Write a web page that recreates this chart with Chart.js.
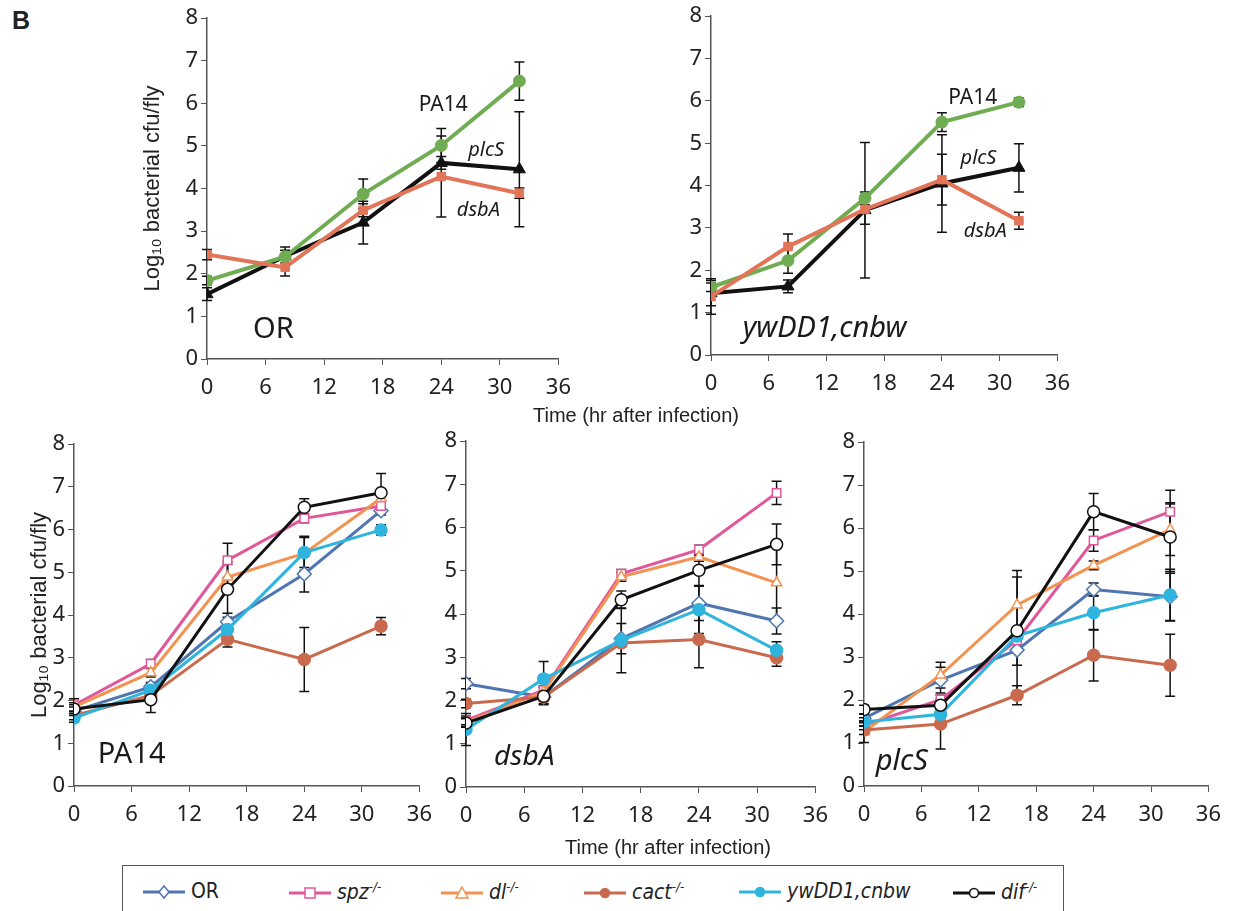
<!DOCTYPE html>
<html>
<head>
<meta charset="utf-8">
<title>Bacterial growth in flies</title>
<script src="https://cdn.jsdelivr.net/npm/chart.js@4.4.1/dist/chart.umd.min.js"></script>
<style>
  body { margin: 0; background: #fff; width: 1233px; height: 911px; overflow: hidden; position: relative;
         font-family: "Liberation Sans", Arial, sans-serif; color: #222; }
  canvas { position: absolute; }
  .xtitle { position: absolute; font-size: 20px; white-space: nowrap; transform: translateX(-50%); }
  #panelB { position: absolute; left: 12px; top: 6px; font-size: 25px; font-weight: bold; }
  #legend { position: absolute; left: 122px; top: 865px; width: 942px; height: 70px;
            border: 1.5px solid #555; box-sizing: border-box; }
  .item { position: absolute; top: 13px; height: 26px; white-space: nowrap;
          font-family: "Liberation Sans Narrow", "DejaVu Sans Condensed", "Liberation Sans", sans-serif; font-size: 21px; }
  .item svg { vertical-align: middle; margin-right: 6px; }
  .item sup { font-size: 13px; }
</style>
</head>
<body>
<div id="panelB">B</div>

<canvas id="chart-or" width="441" height="399" style="left:140px;top:0px"></canvas>
<canvas id="chart-yw" width="414" height="395" style="left:666px;top:0px"></canvas>
<canvas id="chart-pa14" width="415" height="402" style="left:27px;top:424px"></canvas>
<canvas id="chart-dsba" width="412" height="403" style="left:426px;top:424px"></canvas>
<canvas id="chart-plcs" width="407" height="402" style="left:824px;top:424px"></canvas>

<div class="xtitle" style="left:636px;top:404px">Time (hr after infection)</div>
<div class="xtitle" style="left:668px;top:836px">Time (hr after infection)</div>
<div id="legend"></div>

<script>
// ---- DATA (log10 cfu/fly) ----
var TIMES = [0, 8, 16, 24, 32];

// top row : fly strain OR, three bacteria
var OR_PA14 = [1.84, 2.40, 3.87, 5.01, 6.52];
var OR_PA14_ERR = [0.10, 0.15, 0.35, 0.40, 0.45];
var OR_DSBA = [2.45, 2.15, 3.49, 4.28, 3.89];
var OR_DSBA_ERR = [0.12, 0.20, 0.15, 0.95, 0.12];
var OR_PLCS = [1.52, 2.41, 3.20, 4.60, 4.45];
var OR_PLCS_ERR = [0.15, 0.22, 0.50, 0.15, 1.35];

// top row : fly strain ywDD1,cnbw
var YW_PA14 = [1.60, 2.23, 3.70, 5.50, 5.97];
var YW_PA14_ERR = [0.10, 0.30, 0.15, 0.22, 0.10];
var YW_DSBA = [1.38, 2.56, 3.44, 4.14, 3.17];
var YW_DSBA_ERR = [0.42, 0.30, 0.35, 0.60, 0.20];
var YW_PLCS = [1.46, 1.62, 3.42, 4.05, 4.42];
var YW_PLCS_ERR = [0.30, 0.15, 1.60, 1.15, 0.57];

// bottom row : fly genotypes, order OR, spz, dl, cact, ywDD1,cnbw, dif
var PA14_VALUES = [
  [1.75, 2.32, 3.84, 4.96, 6.44],
  [1.89, 2.86, 5.28, 6.26, 6.55],
  [1.85, 2.65, 4.89, 5.44, 6.73],
  [1.65, 2.12, 3.43, 2.96, 3.74],
  [1.59, 2.24, 3.66, 5.46, 5.99],
  [1.80, 2.02, 4.60, 6.52, 6.86]
];
var PA14_ERRORS = [
  [0.10, 0.10, 0.20, 0.42, 0.10],
  [0.15, 0.10, 0.40, 0.10, 0.10],
  [0.10, 0.10, 0.30, 0.40, 0.10],
  [0.10, 0.10, 0.18, 0.75, 0.20],
  [0.10, 0.15, 0.15, 0.35, 0.12],
  [0.10, 0.30, 0.65, 0.20, 0.45]
];
var DSBA_VALUES = [
  [2.39, 2.08, 3.43, 4.25, 3.84],
  [1.54, 2.24, 4.93, 5.49, 6.80],
  [1.50, 2.20, 4.86, 5.32, 4.72],
  [1.93, 2.08, 3.33, 3.41, 2.99],
  [1.33, 2.50, 3.39, 4.10, 3.16],
  [1.48, 2.10, 4.33, 5.01, 5.61]
];
var DSBA_ERRORS = [
  [0.12, 0.10, 0.35, 0.40, 0.30],
  [0.10, 0.10, 0.10, 0.10, 0.27],
  [0.10, 0.10, 0.10, 0.10, 0.85],
  [0.10, 0.15, 0.10, 0.65, 0.20],
  [0.37, 0.40, 0.75, 0.55, 0.20],
  [0.10, 0.20, 0.20, 0.35, 0.47]
];
var PLCS_VALUES = [
  [1.57, 2.46, 3.16, 4.57, 4.40],
  [1.41, 2.01, 3.39, 5.71, 6.38],
  [1.26, 2.58, 4.21, 5.13, 5.96],
  [1.30, 1.44, 2.11, 3.04, 2.81],
  [1.49, 1.67, 3.49, 4.03, 4.44],
  [1.78, 1.88, 3.61, 6.38, 5.79]
];
var PLCS_ERRORS = [
  [0.10, 0.30, 0.35, 0.15, 0.55],
  [0.10, 0.10, 0.10, 0.25, 0.50],
  [0.25, 0.30, 0.65, 0.10, 0.60],
  [0.10, 0.58, 0.22, 0.60, 0.72],
  [0.10, 0.10, 0.10, 0.40, 0.60],
  [0.10, 0.10, 1.40, 0.42, 0.80]
];

var GENOTYPES = ["OR", "spz", "dl", "cact", "ywDD1,cnbw", "dif"];
var GENOTYPE_MUTANT = [false, true, true, true, false, true]; // gets the -/- mark
var GENOTYPE_ITALIC = [false, true, true, true, true, true];

// ---- STYLES ----
var GENO_COLORS = ["#4f76b0", "#e0579a", "#f29352", "#c96a4e", "#2fb4de", "#111111"];
var GENO_POINTS = ["rectRot", "rect", "triangle", "circle", "circle", "circle"];
var GENO_OPEN = [true, true, true, false, false, true];
var TICK_FONT = { family: "'Noto Sans', sans-serif", size: 22 };
var Y_TITLE = "Log\u2081\u2080 bacterial cfu/fly";

// labels written inside the plot area (data coordinates)
var PANEL_TEXT = {
  "chart-or": [
    { text: "PA14", x: 24.2, y: 5.96, size: 21, style: "normal" },
    { text: "plcS", x: 28.6, y: 4.90, size: 20, style: "italic" },
    { text: "dsbA", x: 27.8, y: 3.50, size: 20, style: "italic" },
    { text: "OR", x: 6.8, y: 0.68, size: 29, style: "normal" }
  ],
  "chart-yw": [
    { text: "PA14", x: 27.2, y: 6.06, size: 21, style: "normal" },
    { text: "plcS", x: 27.8, y: 4.65, size: 20, style: "italic" },
    { text: "dsbA", x: 28.5, y: 2.93, size: 20, style: "italic" },
    { text: "ywDD1,cnbw", x: 11.8, y: 0.63, size: 29, style: "italic" }
  ],
  "chart-pa14": [{ text: "PA14", x: 6.0, y: 0.73, size: 29, style: "normal" }],
  "chart-dsba": [{ text: "dsbA", x: 6.0, y: 0.69, size: 28, style: "italic" }],
  "chart-plcs": [{ text: "plcS", x: 3.95, y: 0.56, size: 29, style: "italic" }]
};

/*
  NAME : errorBars
  ROLE : draw vertical error bars (dataset.errors) with the chart scales
*/
var errorBars = {
  id: "errorBars",
  beforeDatasetsDraw: function (chart) {
    var ctx = chart.ctx;
    var xs = chart.scales.x, ys = chart.scales.y;
    ctx.save();
    ctx.strokeStyle = "#111";
    ctx.lineWidth = 1.5;
    chart.data.datasets.forEach(function (ds) {
      if (!ds.errors) return;
      ds.data.forEach(function (p, i) {
        var e = ds.errors[i];
        var px = xs.getPixelForValue(p.x);
        var top = ys.getPixelForValue(p.y + e);
        var bot = ys.getPixelForValue(p.y - e);
        ctx.beginPath();
        ctx.moveTo(px, top); ctx.lineTo(px, bot);
        ctx.moveTo(px - 5, top); ctx.lineTo(px + 5, top);
        ctx.moveTo(px - 5, bot); ctx.lineTo(px + 5, bot);
        ctx.stroke();
      });
    });
    ctx.restore();
  }
};

/*
  NAME : panelText
  ROLE : write the strain names inside each panel
*/
var panelText = {
  id: "panelText",
  afterDatasetsDraw: function (chart) {
    var items = PANEL_TEXT[chart.canvas.id] || [];
    var ctx = chart.ctx;
    ctx.save();
    ctx.fillStyle = "#1a1a1a";
    ctx.textAlign = "center";
    ctx.textBaseline = "middle";
    items.forEach(function (t) {
      var style = t.style === "italic" ? "italic " : "";
      ctx.font = style + t.size + "px 'Noto Sans', sans-serif";
      ctx.fillText(t.text, chart.scales.x.getPixelForValue(t.x), chart.scales.y.getPixelForValue(t.y));
    });
    ctx.restore();
  }
};

function toPoints(values) {
  return values.map(function (v, i) { return { x: TIMES[i], y: v }; });
}

/*
  NAME : buildPanel
  ROLE : one small line chart, fixed axis boxes so that panels line up
*/
function buildPanel(id, datasets, yWidth, padTop, showTitle) {
  var canvas = document.getElementById(id);
  return new Chart(canvas, {
    type: "line",
    data: { datasets: datasets },
    options: {
      responsive: false,
      animation: false,
      devicePixelRatio: 1,
      layout: { padding: { top: padTop, right: 20, left: 0, bottom: 0 } },
      plugins: { legend: { display: false }, tooltip: { enabled: false } },
      scales: {
        x: {
          type: "linear", min: 0, max: 36,
          ticks: { stepSize: 6, font: TICK_FONT, color: "#222", padding: 10, maxRotation: 0 },
          grid: { drawOnChartArea: false, tickLength: 6, color: "#555" },
          border: { color: "#555", width: 1.5 },
          afterFit: function (s) { s.height = 40; }
        },
        y: {
          min: 0, max: 8,
          ticks: { stepSize: 1, font: TICK_FONT, color: "#222", padding: 3 },
          grid: { drawOnChartArea: false, tickLength: 6, color: "#555" },
          border: { color: "#555", width: 1.5 },
          title: { display: showTitle, text: Y_TITLE, color: "#222",
                   font: { family: "'Liberation Sans', Arial, sans-serif", size: 22 }, padding: 0 },
          afterFit: function (s) { s.width = yWidth; }
        }
      }
    },
    plugins: [errorBars, panelText]
  });
}

function strainSet(values, errors, color, point, radius) {
  return {
    data: toPoints(values), errors: errors,
    borderColor: color, backgroundColor: color, borderWidth: 4,
    pointStyle: point, pointRadius: radius, pointBackgroundColor: color,
    pointBorderColor: color, pointBorderWidth: 1, tension: 0
  };
}

function genotypeSets(valuesList, errorsList) {
  // draw in reverse so OR ends up on top like the original
  var sets = [];
  for (var i = GENOTYPES.length - 1; i >= 0; i--) {
    sets.push({
      label: GENOTYPES[i],
      data: toPoints(valuesList[i]), errors: errorsList[i],
      borderColor: GENO_COLORS[i], borderWidth: 3, tension: 0,
      pointStyle: GENO_POINTS[i],
      pointRadius: GENO_POINTS[i] === "rectRot" ? 7 : 6,
      pointBackgroundColor: GENO_OPEN[i] ? "#fff" : GENO_COLORS[i],
      pointBorderColor: GENO_COLORS[i], pointBorderWidth: 1.5
    });
  }
  return sets;
}

// top row
buildPanel("chart-or", [
  strainSet(OR_DSBA, OR_DSBA_ERR, "#e27458", "rect", 6),
  strainSet(OR_PA14, OR_PA14_ERR, "#70ad52", "circle", 6),
  strainSet(OR_PLCS, OR_PLCS_ERR, "#111111", "triangle", 7)
], 67, 18, true);

buildPanel("chart-yw", [
  strainSet(YW_DSBA, YW_DSBA_ERR, "#e27458", "rect", 6),
  strainSet(YW_PA14, YW_PA14_ERR, "#70ad52", "circle", 6),
  strainSet(YW_PLCS, YW_PLCS_ERR, "#111111", "triangle", 7)
], 45, 14, false);

// bottom row
buildPanel("chart-pa14", genotypeSets(PA14_VALUES, PA14_ERRORS), 47, 20, true);
buildPanel("chart-dsba", genotypeSets(DSBA_VALUES, DSBA_ERRORS), 40, 17, false);
buildPanel("chart-plcs", genotypeSets(PLCS_VALUES, PLCS_ERRORS), 40, 18, false);

// ---- legend for the bottom row ----
var LEGEND_LEFT = [20, 166, 318, 461, 616, 830];

function markerSvg(i) {
  var c = GENO_COLORS[i];
  var fill = GENO_OPEN[i] ? "#fff" : c;
  var shape;
  if (GENO_POINTS[i] === "rectRot") shape = '<polygon points="21,3 26,9 21,15 16,9" fill="' + fill + '" stroke="' + c + '" stroke-width="1.5"/>';
  else if (GENO_POINTS[i] === "rect") shape = '<rect x="16" y="4" width="10" height="10" fill="' + fill + '" stroke="' + c + '" stroke-width="1.5"/>';
  else if (GENO_POINTS[i] === "triangle") shape = '<polygon points="21,3 27,14 15,14" fill="' + fill + '" stroke="' + c + '" stroke-width="1.5"/>';
  else shape = '<circle cx="21" cy="9" r="4.5" fill="' + fill + '" stroke="' + c + '" stroke-width="1.5"/>';
  return '<svg width="42" height="18"><line x1="0" y1="9" x2="42" y2="9" stroke="' + c + '" stroke-width="3"/>' + shape + '</svg>';
}

var legend = document.getElementById("legend");
GENOTYPES.forEach(function (name, i) {
  var div = document.createElement("div");
  div.className = "item";
  div.style.left = LEGEND_LEFT[i] + "px";
  var label = GENOTYPE_ITALIC[i] ? "<i>" + name + "</i>" : name;
  if (GENOTYPE_MUTANT[i]) label += "<sup><i>-/-</i></sup>";
  div.innerHTML = markerSvg(i) + label;
  legend.appendChild(div);
});
</script>
</body>
</html>
